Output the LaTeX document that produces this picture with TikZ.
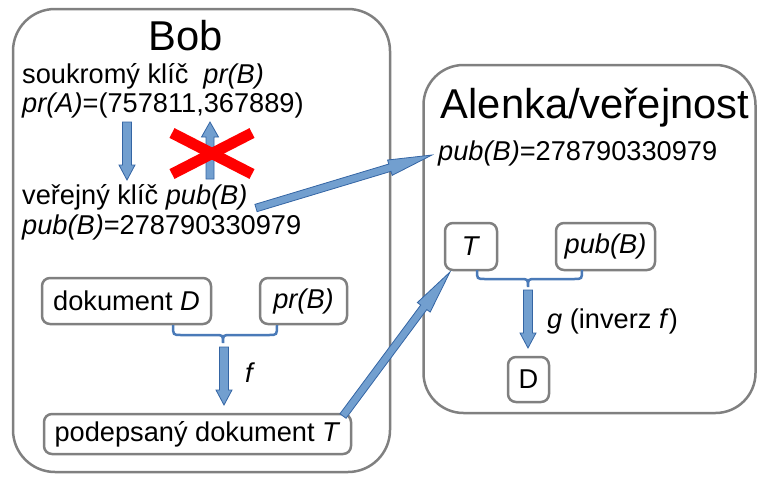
\documentclass[tikz,border=0pt]{standalone}
\usepackage{fontspec}
\setmainfont{Liberation Sans}
\usetikzlibrary{calc}
\definecolor{boxgray}{HTML}{808080}
\definecolor{arrfill}{HTML}{729FCF}
\definecolor{arrline}{HTML}{3465A4}
\definecolor{bracec}{HTML}{4A7AB8}
\tikzset{
  bigbox/.style={draw=boxgray, line width=2.5pt, rounded corners=42pt, inner sep=0pt},
  smallbox/.style={draw=boxgray, line width=2.5pt, rounded corners=8pt, inner sep=0pt,
    font=\fontsize{27.2}{31}\selectfont},
  txt/.style={anchor=base west, inner sep=0pt, font=\fontsize{27.2}{31}\selectfont},
  titletxt/.style={anchor=base, inner sep=0pt, font=\fontsize{41.7}{46}\selectfont},
  blockarrow/.style={fill=arrfill, draw=arrline, line width=0.8pt, line join=miter},
  bracepath/.style={draw=bracec, line width=2.5pt},
  crossline/.style={draw=red, line width=11pt},
}
% from, to, half shaft width, half head width, head length
\newcommand\blockarr[5]{%
  \coordinate (ba-n) at ($(#2)!#5!(#1)$);
  \draw[blockarrow] ($(#1)!#3!90:(#2)$) -- ($(ba-n)!#3!90:(#2)$) -- ($(ba-n)!#4!90:(#2)$)
    -- (#2) -- ($(ba-n)!#4!-90:(#2)$) -- ($(ba-n)!#3!-90:(#2)$) -- ($(#1)!#3!-90:(#2)$) -- cycle;}
\begin{document}
\begin{tikzpicture}[x=1pt,y=-1pt]
\useasboundingbox (0,0) rectangle (761,477);
% big boxes
\node[bigbox, minimum width=377pt, minimum height=463pt] (bob) at (201.5,240.5) {};
\node[bigbox, rounded corners=40pt, minimum width=332pt, minimum height=348pt] (alenka) at (589.5,239) {};
% titles
\node[titletxt] (bobt) at (186,50) {Bob};
\node[titletxt] (alt) at (595,118) {Alenka/veřejnost};
% Bob texts
\node[txt] (sk) at (22,83) {soukromý klíč\hspace{0.55em}\textit{pr(B)}};
\node[txt] (prA) at (22,112) {\textit{pr(A)}=(757811,367889)};
\node[txt] (vk) at (22,204) {veřejný klíč \textit{pub(B)}};
\node[txt] (pubB) at (22,234) {\textit{pub(B)}=278790330979};
% Alenka text
\node[txt] (apub) at (438,160) {\textit{pub(B)}=278790330979};
% small boxes
\node[smallbox, minimum width=169pt, minimum height=46pt] (dokD) at (126.5,301) {dokument \textit{D}};
\node[smallbox, minimum width=87pt, minimum height=46pt] (prB) at (303.5,301) {\textit{pr(B)}};
\node[smallbox, minimum width=307pt, minimum height=40pt] (podT) at (197.5,434) {podepsaný dokument \textit{T}};
\node[smallbox, minimum width=52pt, minimum height=47pt] (aT) at (471,246.5) {\textit{T}};
\node[smallbox, minimum width=99pt, minimum height=47pt] (apubB) at (605.5,246.5) {\textit{pub(B)}};
\node[smallbox, minimum width=41pt, minimum height=45pt] (aD) at (528.5,379.5) {D};
% labels
\node[txt] (flab) at (245,382) {\textit{f}};
\node[txt] (glab) at (547,328) {\textit{g} (inverz \textit{f})};
% arrow end points
\coordinate (a1s) at (127,122); \coordinate (a1e) at (127,180);
\coordinate (a2s) at (210,179); \coordinate (a2e) at (210,122);
\coordinate (fs) at (224,347); \coordinate (fe) at (224,405);
\coordinate (gs) at (528,290); \coordinate (ge) at (528,348);
\coordinate (b1s) at (256,208); \coordinate (b1e) at (432,155);
\coordinate (b2s) at (343,416); \coordinate (b2e) at (450,272);
\blockarr{a1s}{a1e}{4.5pt}{8pt}{15pt}
\blockarr{a2s}{a2e}{4pt}{8.5pt}{15pt}
\blockarr{fs}{fe}{4.5pt}{8pt}{15pt}
\blockarr{gs}{ge}{4.5pt}{8pt}{15pt}
\blockarr{b1s}{b1e}{3.8pt}{8pt}{44pt}
\blockarr{b2s}{b2e}{3.8pt}{8pt}{44pt}
% red cross
\coordinate (x1) at (172,133); \coordinate (x2) at (252,174);
\coordinate (x3) at (172,174); \coordinate (x4) at (252,133);
\draw[crossline] (x1) -- (x2);
\draw[crossline] (x3) -- (x4);
% braces
\draw[bracepath] (173,325) .. controls (173,335) .. (181,335) -- (215,335) .. controls (223,335) .. (223,343)
  .. controls (223,335) .. (231,335) -- (269,335) .. controls (277,335) .. (277,325);
\draw[bracepath] (477,270) .. controls (477,279) .. (485,279) -- (520,279) .. controls (528,279) .. (528,287)
  .. controls (528,279) .. (536,279) -- (574,279) .. controls (582,279) .. (582,270);
\end{tikzpicture}
\end{document}
